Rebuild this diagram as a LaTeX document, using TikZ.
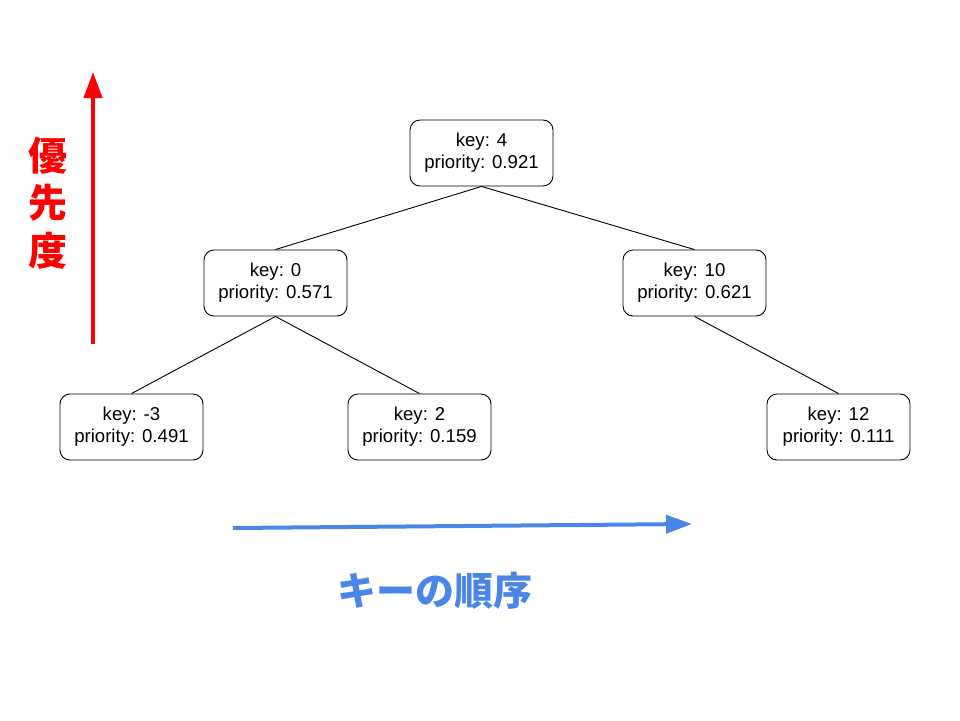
\documentclass[tikz,border=0pt]{standalone}
\usepackage{fontspec}
\setmainfont{Liberation Sans}
\newfontfamily\cjk{Noto Sans CJK JP}
\usetikzlibrary{arrows.meta}
\definecolor{keyblue}{HTML}{4A86E8}
\tikzset{
  treap/.style={draw=black, line width=0.9pt, rounded corners=10pt, minimum width=143pt, minimum height=66pt, align=center, inner sep=2pt, font=\fontsize{18.6}{22}\selectfont},
  edge/.style={draw=black, line width=0.9pt},
  axisarrow/.style={line width=4pt, -{Triangle[length=26pt,width=18pt]}},
  jplabel/.style={font=\cjk\bfseries\fontsize{39}{39}\selectfont, inner sep=0pt}
}
\begin{document}
\begin{tikzpicture}[x=1pt,y=-1pt]
\path[use as bounding box] (0,0) rectangle (960,720);
\node[treap] (r) at (481.5,153) {key: 4\\priority: 0.921};
\node[treap] (a) at (275.5,283) {key: 0\\priority: 0.571};
\node[treap] (b) at (694.5,283) {key: 10\\priority: 0.621};
\node[treap] (c) at (131.5,427) {key: -3\\priority: 0.491};
\node[treap] (d) at (419.5,427) {key: 2\\priority: 0.159};
\node[treap] (e) at (838.5,427) {key: 12\\priority: 0.111};
\draw[edge] (r.south) -- (a.north);
\draw[edge] (r.south) -- (b.north);
\draw[edge] (a.south) -- (c.north);
\draw[edge] (a.south) -- (d.north);
\draw[edge] (b.south) -- (e.north);
\coordinate (ps) at (93,344);
\coordinate (pe) at (93,72);
\draw[axisarrow, red, -{Triangle[length=26pt,width=18pt]}] (ps) -- (pe);
\coordinate (ks) at (233,528);
\coordinate (ke) at (692,524);
\draw[axisarrow, keyblue] (ks) -- (ke);
\node[jplabel, text=red] (p1) at (48,156) {優};
\node[jplabel, text=red] (p2) at (48,203) {先};
\node[jplabel, text=red] (p3) at (48,251) {度};
\node[jplabel, text=keyblue] (k) at (435,591) {キーの順序};
\end{tikzpicture}
\end{document}
